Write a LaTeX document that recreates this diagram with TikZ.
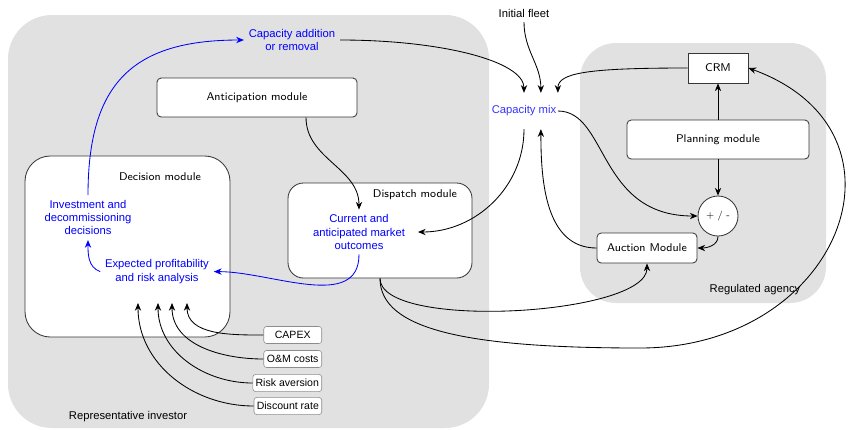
\documentclass[tikz,border=0pt]{standalone}
\usepackage{fontspec}
\setmainfont{Liberation Sans}
\usepackage{tikz}
\usetikzlibrary{shapes}
\usetikzlibrary{arrows}
\usetikzlibrary{arrows.meta}
\usetikzlibrary{positioning}
\usetikzlibrary{calc}
\definecolor{zone}{RGB}{225,225,225}
\definecolor{bord}{RGB}{55,55,55}
\tikzstyle{zonebg}=[fill=zone,draw=none]
\tikzstyle{module}=[
        rectangle,
        draw=bord,
        semithick,
        fill=white,
        rounded corners=3pt,
        font=\sffamily\footnotesize
]
\tikzstyle{bigmodule}=[rectangle,draw=bord,semithick,fill=white]
\tikzstyle{modlabel}=[font=\sffamily\footnotesize]
\tikzstyle{flux}=[text=blue,font=\footnotesize,align=center]
\tikzstyle{param}=[rectangle,draw=black!45,fill=white,rounded corners=2pt,
font=\fontsize{7.5}{9}\selectfont,anchor=east,minimum height=0.425cm,inner xsep=2pt]
\tikzstyle{suite}=[->,>={Stealth[length=5.5pt,width=4.5pt]},semithick]
\tikzstyle{suiteb}=[suite,blue]

\begin{document}
\begin{tikzpicture}
\useasboundingbox (0,0) rectangle (21.2,-10.725);
\fill[zonebg,rounded corners=1.1cm] (0.2,-0.375) rectangle (12.225,-10.7);
\fill[zonebg,rounded corners=0.9cm] (14.5,-1.075) rectangle (20.65,-7.575);
\node[font=\footnotesize] (invlab) at (3.2,-10.425) {Representative investor};
\node[font=\footnotesize] (reglab) at (18.875,-7.25) {Regulated agency};
\node[bigmodule,rounded corners=18pt,minimum width=5.125cm,minimum height=4.525cm] (dec) at (3.1875,-6.1625) {};
\node[modlabel] (declab) at (4.0,-4.425) {Decision module};
\node[bigmodule,rounded corners=11pt,minimum width=4.6cm,minimum height=2.375cm] (disp) at (9.5,-5.7625) {};
\node[modlabel] (displab) at (10.375,-4.875) {Dispatch module};
\node[module,minimum width=5cm,minimum height=0.975cm] (antic) at (6.425,-2.4375) {Anticipation module};
\node[module,rounded corners=0pt,minimum width=1.5cm,minimum height=0.75cm] (crm) at (17.95,-1.7) {CRM};
\node[module,minimum width=4.55cm,minimum height=0.975cm] (plan) at (17.95,-3.4875) {Planning module};
\node[module,circle,minimum size=1cm,inner sep=0pt,font=\sffamily\scriptsize] (pm) at (17.95,-5.4) {+ / -};
\node[module,minimum width=2.5cm,minimum height=0.75cm] (auct) at (16.175,-6.2) {Auction Module};
\node[flux] (capadd) at (7.3,-1.0) {Capacity addition\\or removal};
\node[flux,text=blue!80,inner xsep=1pt,inner ysep=9pt] (mix) at (13.1,-2.775) {Capacity mix};
\node[font=\footnotesize] (fleet) at (13.1,-0.325) {Initial fleet};
\node[flux] (invest) at (2.2,-5.44) {Investment and\\decommissioning\\decisions};
\node[flux] (expect) at (3.925,-6.79) {Expected profitability\\and risk analysis};
\node[flux] (current) at (8.975,-5.8) {Current and\\anticipated market\\outcomes};
\node[param,minimum width=1.45cm] (capex) at (8.05,-8.375) {CAPEX};
\node[param,minimum width=1.45cm] (om) at (8.05,-8.975) {O\&M costs};
\node[param,minimum width=1.65cm] (risk) at (8.05,-9.575) {Risk aversion};
\node[param,minimum width=1.65cm] (disc) at (8.05,-10.15) {Discount rate};
\coordinate (t1) at (4.675,-7.575);
\coordinate (t2) at (4.3,-7.575);
\coordinate (t3) at (3.95,-7.575);
\coordinate (t4) at (3.45,-7.575);
\coordinate (bas) at (16,-8.7);
%Drawing Edges
\draw[suiteb] (invest.north) to[out=90,in=180,looseness=1.3] (capadd.west);
\draw[suite] (capadd.east) .. controls +(2.5,0) and +(0,0.8) .. (mix.north);
\draw[suite] (fleet.south) to[out=-90,in=90] ([xshift=12pt]mix.north);
\draw[suite] (crm.west) .. controls +(-2.5,0) and +(0,0.5) .. (mix.north east);
\draw[suite] (mix.east) .. controls +(1.25,0) and +(-2.5,0) .. (pm.west);
\draw[suite] (mix.south) to[out=-90,in=0] ([xshift=0.2cm]current.east);
\draw[suite] (auct.west) to[out=180,in=-90] ([xshift=12pt]mix.south);
\draw[suite] (plan) -- (crm);
\draw[suite] (plan) -- (pm);
\draw[suite] (pm.south) to[out=-90,in=0] (auct.east);
\draw[suite] ([xshift=1.225cm]antic.south) to[out=-90,in=90] (current.north);
\draw[suiteb] (current.south) to[out=-90,in=0] (expect.east);
\draw[suiteb] (expect.west) to[out=160,in=-90] (invest.south);
\draw[suite] (disp.south) to[out=-90,in=-90,looseness=0.5] (auct.south);
\draw[suite] (disp.south) .. controls +(0,-1.3) and (11.75,-8.7) .. (bas)
        .. controls (21,-8.7) and (23.1,-3.3) .. (crm.east);
\draw[suite] (capex.west) to[out=180,in=-90] (t1);
\draw[suite] (om.west) to[out=180,in=-90] (t2);
\draw[suite] (risk.west) to[out=180,in=-90] (t3);
\draw[suite] (disc.west) to[out=180,in=-90] (t4);
\end{tikzpicture}
\end{document}
